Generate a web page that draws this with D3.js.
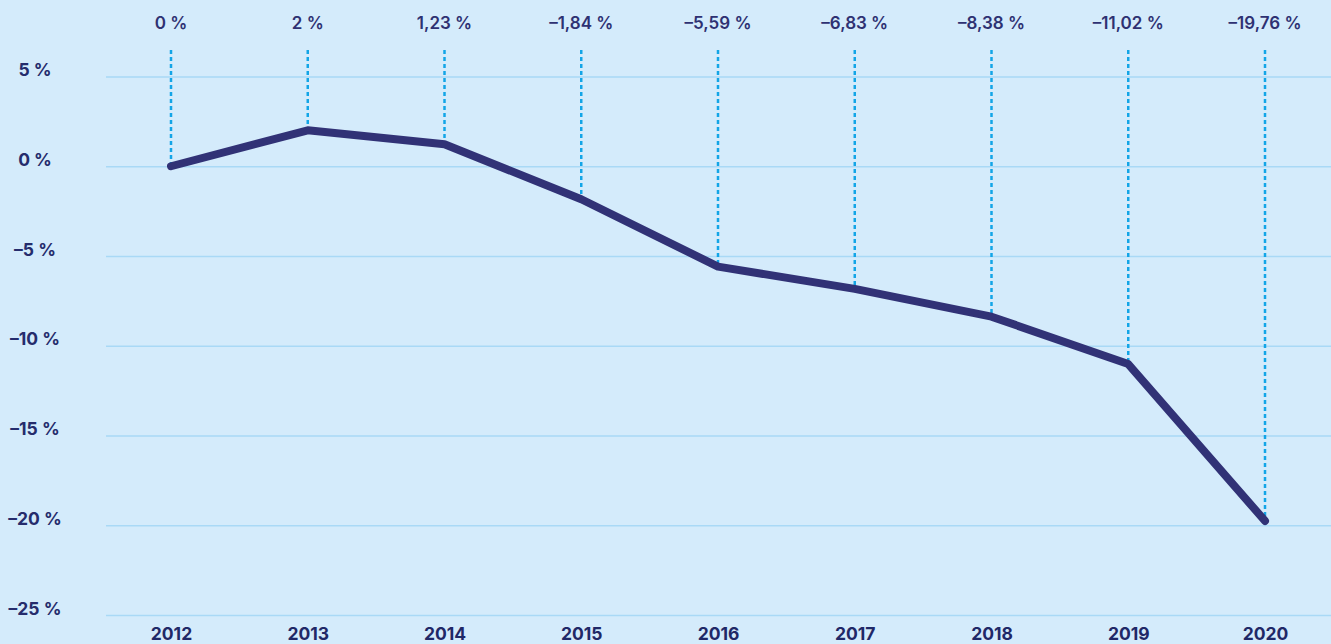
<!DOCTYPE html>
<html>
<head>
<meta charset="utf-8">
<script src="https://cdn.jsdelivr.net/npm/d3@7"></script>
<style>
  body { margin: 0; background: #d4ebfb; }
  svg { display: block; }
  text { font-family: Inter, Lato, sans-serif; }
</style>
</head>
<body>
<div id="chart"></div>
<script>
// data
var years = [2012, 2013, 2014, 2015, 2016, 2017, 2018, 2019, 2020];
var values = [0, 2, 1.23, -1.84, -5.59, -6.83, -8.38, -11.02, -19.76];
var valueLabels = ["0 %", "2 %", "1,23 %", "–1,84 %", "–5,59 %", "–6,83 %", "–8,38 %", "–11,02 %", "–19,76 %"];
var yTicks = [5, 0, -5, -10, -15, -20, -25];

var width = 1331, height = 644;

var svg = d3.select("#chart")
    .append("svg")
    .attr("width", width)
    .attr("height", height);

svg.append("rect")
    .attr("width", width)
    .attr("height", height)
    .attr("fill", "#d4ebfb");

var x = d3.scalePoint()
    .domain(years)
    .range([171, 1265]);

var y = d3.scaleLinear()
    .domain([5, -25])
    .range([76.5, 615]);

// y axis with gridlines
var gridLeft = 106;
var yAxis = svg.append("g")
    .attr("transform", "translate(" + gridLeft + ",0)")
    .call(d3.axisLeft(y)
        .tickValues(yTicks)
        .tickSize(-(width - gridLeft))
        .tickFormat(function (d) {
            return (d < 0 ? "–" : "") + Math.abs(d) + " %";
        }));
yAxis.select(".domain").remove();
yAxis.selectAll(".tick line")
    .attr("stroke", "#a9d9f6")
    .attr("stroke-width", 1.5);
yAxis.selectAll(".tick text")
    .attr("x", 35 - gridLeft)
    .attr("dy", "-1")
    .attr("text-anchor", "middle")
    .attr("fill", "#252c6c")
    .attr("font-size", 17.5)
    .attr("font-weight", 700);

// x axis
var xAxis = svg.append("g")
    .attr("transform", "translate(0," + y(-25) + ")")
    .call(d3.axisBottom(x).tickSize(0));
xAxis.select(".domain").remove();
xAxis.selectAll(".tick text")
    .attr("y", 25)
    .attr("dy", 0)
    .attr("fill", "#1f2867")
    .attr("font-size", 17.5)
    .attr("font-weight", 700);

// dashed drop lines
svg.append("g")
    .selectAll("line")
    .data(years)
    .enter()
    .append("line")
    .attr("x1", function (d) { return x(d); })
    .attr("x2", function (d) { return x(d); })
    .attr("y1", 50)
    .attr("y2", function (d, i) { return y(values[i]); })
    .attr("stroke", "#12a5e7")
    .attr("stroke-width", 2.5)
    .attr("stroke-dasharray", "4,3");

// value labels on top
svg.append("g")
    .selectAll("text")
    .data(valueLabels)
    .enter()
    .append("text")
    .attr("x", function (d, i) { return x(years[i]); })
    .attr("y", 29)
    .attr("text-anchor", "middle")
    .attr("fill", "#2e3172")
    .attr("font-size", 17)
    .attr("font-weight", 600)
    .text(function (d) { return d; });

// line
var line = d3.line()
    .x(function (d, i) { return x(years[i]); })
    .y(function (d) { return y(d); });

svg.append("path")
    .datum(values)
    .attr("d", line)
    .attr("fill", "none")
    .attr("stroke", "#313276")
    .attr("stroke-width", 8)
    .attr("stroke-linecap", "round")
    .attr("stroke-linejoin", "round");
</script>
</body>
</html>
